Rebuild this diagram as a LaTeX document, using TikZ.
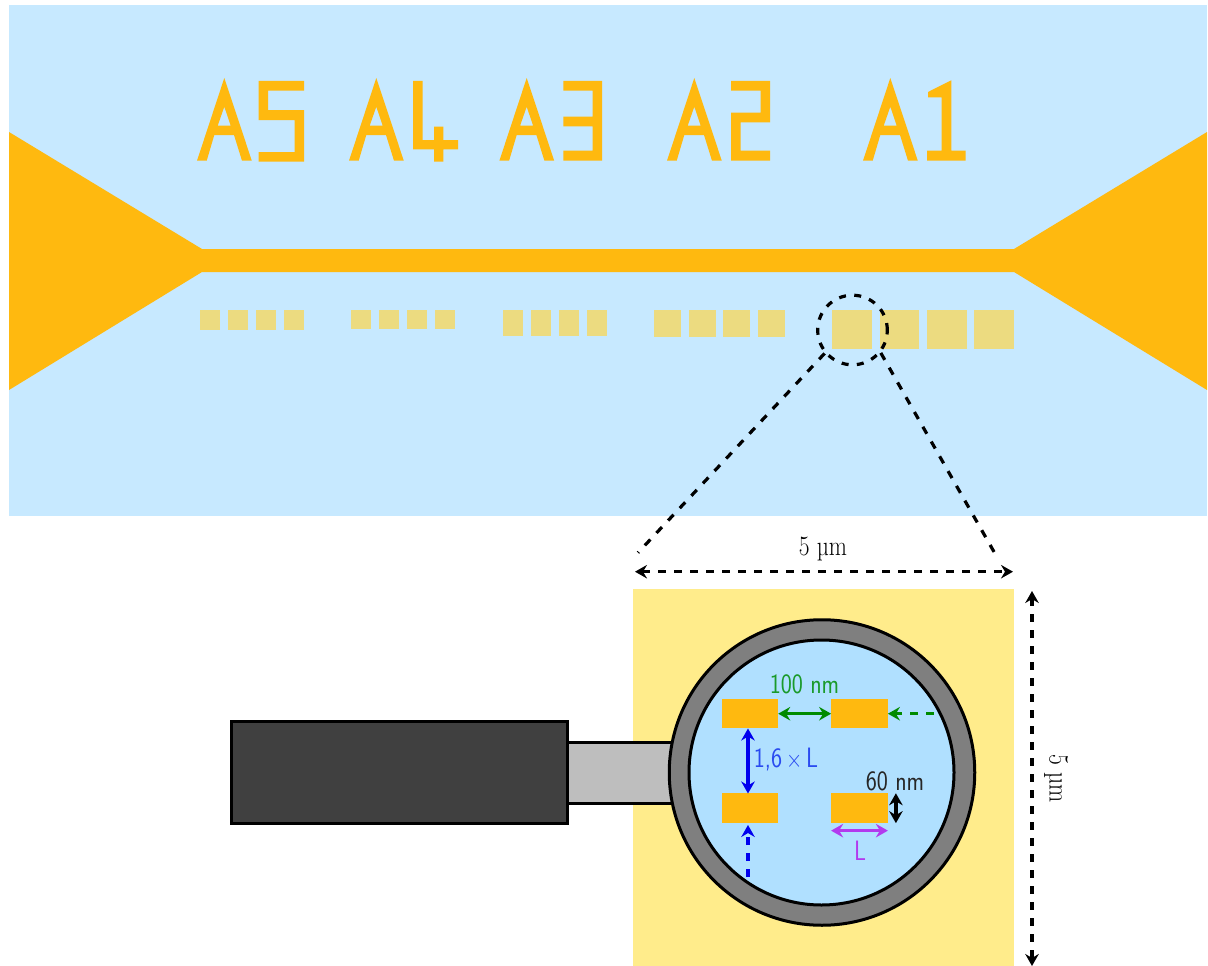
\documentclass[tikz,border=0pt]{standalone}
\usepackage{fontspec}
\usetikzlibrary{arrows.meta}
\definecolor{skyb}{HTML}{C7E9FF}
\definecolor{gold}{HTML}{FFB90F}
\definecolor{padc}{HTML}{ECDB80}
\definecolor{plate}{HTML}{FFEC8B}
\definecolor{lens}{HTML}{B0E0FF}
\definecolor{darkb}{HTML}{404040}
\definecolor{stickc}{HTML}{BEBEBE}
\definecolor{ringc}{HTML}{7F7F7F}
\definecolor{grn}{HTML}{008B00}
\definecolor{grnt}{HTML}{1A9A2A}
\definecolor{blu}{HTML}{0000EE}
\definecolor{blut}{HTML}{2A4BF0}
\definecolor{pur}{HTML}{B23AEE}
\newcommand{\lblfont}{\fontsize{28}{30}\selectfont}
\newcommand{\narrow}[1]{\scalebox{0.84}[1]{#1}}
\tikzset{
  padbox/.style={fill=padc,draw=none},
  bigA/.style={fill=gold,draw=none,even odd rule},
  glyph/.style={fill=gold,draw=none},
  antenna/.style={fill=gold,draw=none,inner sep=0pt,minimum width=56pt,minimum height=29.5pt},
  dimtip/.style={{Stealth[length=12pt,width=13.5pt,inset=4pt]}-{Stealth[length=12pt,width=13.5pt,inset=4pt]}},
  onetip/.style={-{Stealth[length=12pt,width=13.5pt,inset=4pt]}},
  dim/.style={line width=3.2pt},
  dashdim/.style={line width=3.2pt,dash pattern=on 8pt off 8pt},
  lbl/.style={inner sep=0pt,font=\lblfont\sffamily}
}
\newcommand{\letterA}[1]{%
  \fill[bigA,shift={(#1,0)}] (0,78) -- (27.5,160.7) -- (17.7,160.7) -- (9.7,135) -- (-10,135) -- (-17.6,160.7) -- (-27.3,160.7) -- cycle
    (0,106.7) -- (-6.6,125.7) -- (6.4,125.7) -- cycle;%
}
\begin{document}
\begin{tikzpicture}[x=1pt,y=-1pt]
\useasboundingbox (0,0) rectangle (1208,966);
\fill[white] (0,0) rectangle (1208,966);
% chip
\fill[skyb] (9,5) rectangle (1207,516);
\fill[gold] (9,132) -- (202,249) -- (1014,249) -- (1207,132) -- (1207,390) -- (1014,272) -- (202,272) -- (9,390) -- cycle;
% markers
\letterA{224.3}\letterA{376.3}\letterA{526.7}\letterA{694.3}\letterA{890.3}
\fill[glyph] (258.7,81) -- (304,81) -- (304,90.7) -- (268,90.7) -- (268,110) -- (304,110) -- (304,161.7) -- (258.7,161.7) -- (258.7,152) -- (294.7,152) -- (294.7,120) -- (258.7,120) -- cycle;
\fill[glyph] (413,81) -- (422.7,81) -- (422.7,140) -- (434,140) -- (434,126.7) -- (443.3,126.7) -- (443.3,140) -- (458,140) -- (458,149.3) -- (443.3,149.3) -- (443.3,161.7) -- (434,161.7) -- (434,149.3) -- (413,149.3) -- cycle;
\fill[glyph] (563.3,81) -- (602,81) -- (602,160.7) -- (563.3,160.7) -- (563.3,150.7) -- (592.7,150.7) -- (592.7,126.3) -- (563.3,126.3) -- (563.3,116.7) -- (592.7,116.7) -- (592.7,90.7) -- (563.3,90.7) -- cycle;
\fill[glyph] (731,81) -- (770,81) -- (770,122.3) -- (740.7,122.3) -- (740.7,150.7) -- (770,150.7) -- (770,160.7) -- (731,160.7) -- (731,112.7) -- (760.7,112.7) -- (760.7,90.7) -- (731,90.7) -- cycle;
\fill[glyph] (951.3,80.3) -- (951.3,150.7) -- (965.7,150.7) -- (965.7,160.7) -- (927,160.7) -- (927,150.7) -- (941.7,150.7) -- (941.7,97.3) -- (928,97.3) -- (928,92) -- cycle;
% pads
\foreach \x in {199.7,227.7,255.7,283.7} \fill[padbox] (\x,310) rectangle +(20,20);
\foreach \x in {351.3,379.3,407.3,435.3} \fill[padbox] (\x,310) rectangle +(20,18.8);
\foreach \x in {503,531,559,587} \fill[padbox] (\x,310) rectangle +(20,26);
\foreach \x in {654.3,689,723.3,758} \fill[padbox] (\x,310) rectangle +(26.8,26.7);
\foreach \x in {832.3,880,927.3,974.3} \fill[padbox] (\x,310) rectangle +(39.3,39);
% zoom marker
\node[circle,draw=black,dashdim,dash pattern=on 7pt off 8.3pt,minimum size=69.6pt,inner sep=0pt] (zoomc) at (852.5,330) {};
\coordinate (zl) at (638,552.7);
\coordinate (zr) at (994.5,552.7);
\draw[dashdim,dash pattern=on 8pt off 9pt] (zoomc.220) -- (zl);
\draw[dashdim,dash pattern=on 8pt off 9pt] (zoomc.-39) -- (zr);
% plate
\fill[plate] (633,589) rectangle (1014,965.5);
% body
\node[draw=black,line width=3pt,fill=stickc,inner sep=0pt,minimum width=110pt,minimum height=61pt] (stick) at (620,772.5) {};
\node[draw=black,line width=3pt,fill=darkb,inner sep=0pt,minimum width=336pt,minimum height=102.5pt] (body) at (399,772.3) {};
\node[circle,draw=black,line width=3pt,fill=ringc,minimum size=305.5pt,inner sep=0pt] (ring) at (822,772.5) {};
\node[circle,draw=black,line width=3pt,fill=lens,minimum size=265pt,inner sep=0pt] (inner) at (821.5,772.5) {};
% antennas
\node[antenna] (tl) at (750,713.7) {};
\node[antenna,minimum width=56.4pt] (tr) at (859.5,713.7) {};
\node[antenna] (bl) at (750,808.2) {};
\node[antenna,minimum width=56.4pt] (br) at (859.5,808.2) {};
% dimensions
\coordinate (hl) at (635,571.7);
\coordinate (hr) at (1013,571.7);
\draw[dashdim,dimtip] (hl) -- (hr);
\coordinate (vt) at (1032,591);
\coordinate (vb) at (1032,966);
\draw[dashdim,dimtip] (vt) -- (vb);
\draw[dim,grn,dimtip] (tl.east) -- (tr.west);
\coordinate (gd) at (934,713.7);
\draw[dashdim,grn,onetip] (gd) -- (tr.east);
\draw[dim,blu,dimtip] (748,728.5) -- (748,793.5);
\coordinate (bd) at (748,877);
\draw[dashdim,blu,onetip] (bd) -- (748,825);
\draw[dim,black,dimtip] ([xshift=8pt]br.north east) -- ([xshift=8pt]br.south east);
\draw[dim,pur,dimtip] ([yshift=-7.5pt]br.south west) -- ([yshift=-7.5pt]br.south east);
% labels
\node[inner sep=0pt,font=\lblfont] (t5a) at (823,549) {\narrow{5 µm}};
\node[inner sep=0pt,font=\lblfont,rotate=-90] (t5b) at (1056,779) {\narrow{5 µm}};
\node[lbl,text=grnt] (t100) at (804.5,684.5) {\narrow{100 nm}};
\node[lbl,text=blut] (t16) at (786,759.5) {\narrow{1,6\,$\times$\,L}};
\node[lbl,text=black!85] (t60) at (895,781) {\narrow{60 nm}};
\node[lbl,text=pur] (tL) at (860,851) {\narrow{L}};
\end{tikzpicture}
\end{document}
